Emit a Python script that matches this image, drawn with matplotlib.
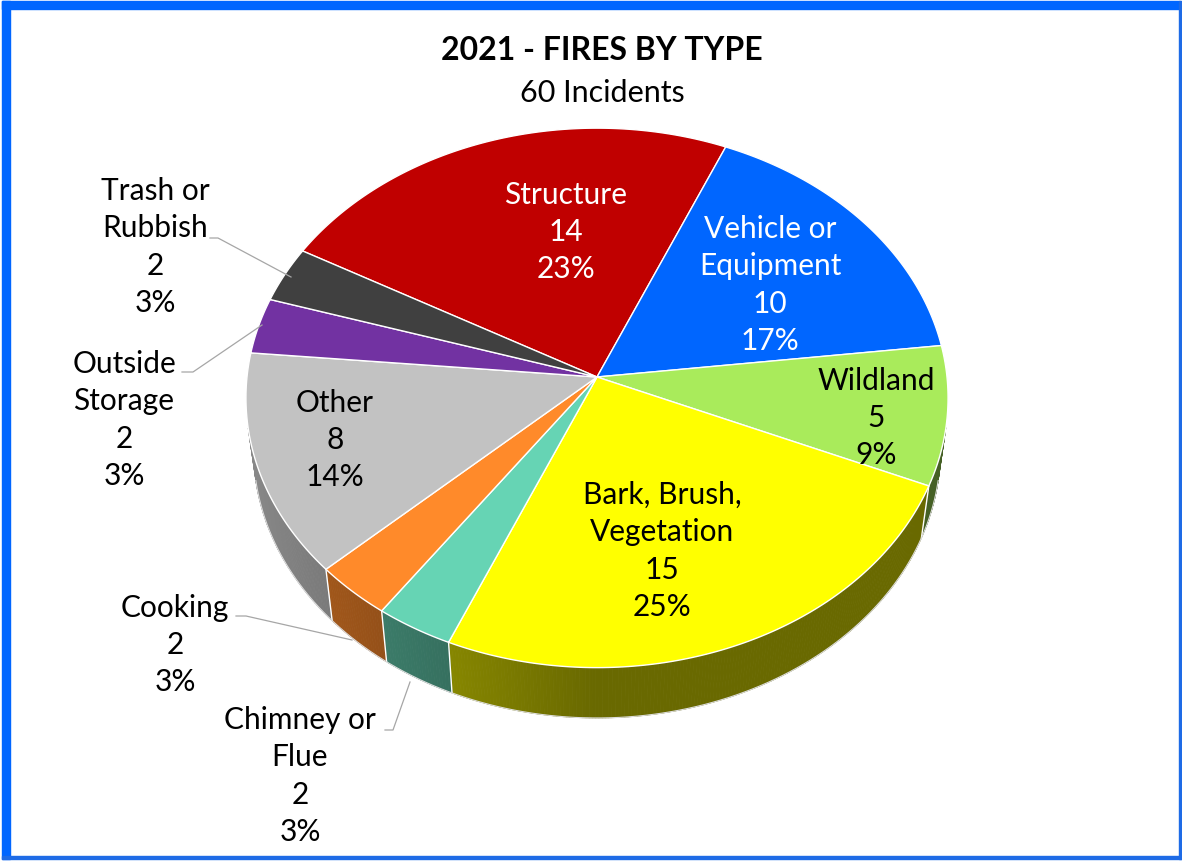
import matplotlib.pyplot as plt
import numpy as np
from matplotlib.patches import Polygon, Rectangle

plt.rcParams['font.family'] = ['Lato', 'DejaVu Sans']

# data
categories = ["Structure", "Vehicle or\nEquipment", "Wildland", "Bark, Brush,\nVegetation",
              "Chimney or\nFlue", "Cooking", "Other", "Outside\nStorage", "Trash or\nRubbish"]
counts = [14, 10, 5, 15, 2, 2, 8, 2, 2]
percents = [23, 17, 9, 25, 3, 3, 14, 3, 3]
colors = ["#C00000", "#0066FF", "#A9EB5B", "#FFFF00",
          "#66D4B4", "#FF8A2A", "#C2C2C2", "#7232A2", "#404040"]
text_colors = ["white", "white", "black", "black", "black", "black", "black", "black", "black"]

# layout (pixels)
label_pos = [(566, 232), (770, 285), (876, 418), (662, 551),
             (300, 776), (175, 645), (335, 440), (124, 420), (155, 247)]
leaders = {4: [(385, 731), (393, 731), (410, 683)],
           5: [(236, 617), (246, 617), (352, 641)],
           7: [(182, 373), (193, 373), (262, 326)],
           8: [(210, 239), (218, 239), (291, 278)]}

CX, CY = 597, 378
ELEV = np.radians(50)
D0 = 8.3
K = 350 * D0
H = 0.24
START = 150.8


def proj(x, y, z=0.0):
    d = D0 + y * np.cos(ELEV) - z * np.sin(ELEV)
    sx = CX + K * x / d
    sy = CY - K * (y * np.sin(ELEV) + z * np.cos(ELEV)) / d
    return np.column_stack([sx, sy]) if np.ndim(sx) else (sx, sy)


def shade(c, f):
    r, g, b = plt.matplotlib.colors.to_rgb(c)
    return (r * f, g * f, b * f)


fig = plt.figure(figsize=(11.82, 8.62), dpi=100)
ax = fig.add_axes([0, 0, 1, 1])
ax.set_xlim(0, 1182)
ax.set_ylim(862, 0)
ax.axis('off')

# frame
ax.add_patch(Rectangle((2, 2), 1178, 8, color="#0066FF", zorder=1))
ax.add_patch(Rectangle((2, 2), 8, 858, color="#0066FF", zorder=1))
ax.add_patch(Rectangle((1179, 2), 2.5, 858, color="#1E6BE6", zorder=1))
ax.add_patch(Rectangle((2, 857.5), 1179, 3, color="#1E6BE6", zorder=1))

total = sum(counts)
bounds = START - np.cumsum([0] + counts) / total * 360
smin = -1.0 / (D0 * np.cos(ELEV))

# side walls
for i, c in enumerate(colors):
    a0, a1 = bounds[i + 1], bounds[i]
    ts = np.arange(a0, a1, 0.5)
    ts = np.append(ts, a1)
    for t0, t1 in zip(ts[:-1], ts[1:]):
        tm = np.radians((t0 + t1) / 2)
        if np.sin(tm) >= smin:
            continue
        r0, r1 = np.radians(t0), np.radians(t1)
        xs = np.cos([r0, r1, r1, r0])
        ys = np.sin([r0, r1, r1, r0])
        zs = np.array([0, 0, -H, -H])
        f = 0.41 + 0.3 * max(0, -np.cos(tm))
        col = shade(c, f)
        ax.add_patch(Polygon(proj(xs, ys, zs), closed=True, facecolor=col,
                             edgecolor=col, linewidth=0.6, zorder=2))

# side separators and rim
for b in bounds[:-1]:
    r = np.radians(b)
    if np.sin(r) < smin:
        p = proj(np.array([np.cos(r)] * 2), np.array([np.sin(r)] * 2), np.array([0, -H]))
        ax.plot(p[:, 0], p[:, 1], color="white", lw=1, zorder=3)
tt = np.radians(np.linspace(-180, 0, 400))
tt = tt[np.sin(tt) < smin]
p = proj(np.cos(tt), np.sin(tt), np.full(len(tt), -H))
ax.plot(p[:, 0], p[:, 1], color="#dddddd", lw=0.8, zorder=3)

# top face
for i, c in enumerate(colors):
    t = np.radians(np.linspace(bounds[i], bounds[i + 1], 120))
    xs = np.concatenate([[0], np.cos(t)])
    ys = np.concatenate([[0], np.sin(t)])
    ax.add_patch(Polygon(proj(xs, ys, np.zeros(len(xs))), closed=True, facecolor=c,
                         edgecolor="white", linewidth=1.0, zorder=4, joinstyle='round'))

# labels
for i, name in enumerate(categories):
    x, y = label_pos[i]
    ax.text(x, y, f"{name}\n{counts[i]}\n{percents[i]}%", ha="center", va="center",
            fontsize=21.5, color=text_colors[i], linespacing=1.4, zorder=6)
for i, pts in leaders.items():
    pts = np.array(pts)
    ax.plot(pts[:, 0], pts[:, 1], color="#A6A6A6", lw=0.9, zorder=5)

ax.text(602, 50, "2021 - FIRES BY TYPE", ha="center", va="center", fontsize=23,
        fontweight="bold", color="black")
ax.text(602, 93, "60 Incidents", ha="center", va="center", fontsize=22, color="black")

fig.savefig("out.png", dpi=100)
